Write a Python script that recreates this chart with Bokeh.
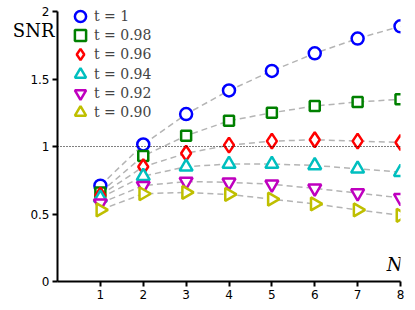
import numpy as np
from bokeh.plotting import figure
from bokeh.models import (Range1d, FixedTicker, Span, Label, Legend, LegendItem,
                          ColumnDataSource, LinearAxis)
from bokeh.embed import file_html
from bokeh.resources import INLINE

N = [1, 2, 3, 4, 5, 6, 7, 8]
snr_t100 = [0.71, 1.015, 1.24, 1.415, 1.56, 1.69, 1.80, 1.89]
snr_t098 = [0.66, 0.93, 1.08, 1.19, 1.25, 1.30, 1.33, 1.35]
snr_t096 = [0.64, 0.85, 0.95, 1.01, 1.04, 1.05, 1.04, 1.03]
snr_t094 = [0.62, 0.78, 0.85, 0.87, 0.87, 0.86, 0.835, 0.81]
snr_t092 = [0.58, 0.71, 0.74, 0.735, 0.72, 0.69, 0.655, 0.62]
snr_t090 = [0.53, 0.65, 0.66, 0.645, 0.61, 0.575, 0.53, 0.49]
series_labels = ["t = 1", "t = 0.98", "t = 0.96", "t = 0.94", "t = 0.92", "t = 0.90"]
x_ticks = [1, 2, 3, 4, 5, 6, 7, 8]
y_ticks = [0, 0.5, 1, 1.5, 2]
y_tick_labels = ["0", "0.5", "1", "1.5", "2"]
y_title = "SNR"
x_title = "N"

series = [snr_t100, snr_t098, snr_t096, snr_t094, snr_t092, snr_t090]
colors = ["#0000ff", "#008000", "#ff0000", "#00bfbf", "#bf00bf", "#bfbf00"]
markers = ["circle", "square", "diamond", "triangle", "inverted_triangle", "triangle"]
sizes = [12, 10, 15, 13, 13, 13]
angles = [0, 0, 0, 0, 0, -np.pi / 2]

p = figure(width=415, height=310, output_backend="svg", toolbar_location=None,
           x_range=Range1d(0, 8), y_range=Range1d(0, 2.052),
           min_border_left=57, min_border_right=15, min_border_top=4,
           min_border_bottom=29)
p.outline_line_color = None
p.xgrid.visible = False
p.ygrid.visible = False

for ax in (p.xaxis[0], p.yaxis[0]):
    ax.axis_line_width = 2
    ax.major_tick_line_width = 2
    ax.major_tick_out = 5
    ax.major_tick_in = 0
    ax.minor_tick_line_color = None
    ax.major_label_text_font = "DejaVu Sans"
    ax.major_label_text_font_size = "12px"
    ax.major_label_text_color = "black"
    ax.axis_line_color = "black"
    ax.major_tick_line_color = "black"

p.xaxis.ticker = FixedTicker(ticks=x_ticks)
p.xaxis.major_label_standoff = 3
p.yaxis.ticker = FixedTicker(ticks=y_ticks)
p.yaxis.major_label_overrides = {t: l for t, l in zip(y_ticks, y_tick_labels)}
p.yaxis.major_label_standoff = 3
p.yaxis.bounds = (y_ticks[0], y_ticks[-1])

# y title "SNR" drawn as the single tick label of an extra, line-less axis
title_axis = LinearAxis(ticker=FixedTicker(ticks=[1.86]),
                        major_label_overrides={1.86: y_title},
                        axis_line_color=None, major_tick_line_color=None,
                        minor_tick_line_color=None, major_tick_out=0,
                        major_tick_in=0, major_label_standoff=-27,
                        major_label_text_font="DejaVu Serif",
                        major_label_text_font_size="18px",
                        major_label_text_color="black")
p.add_layout(title_axis, "left")

p.add_layout(Span(location=1, dimension="width", line_color="black",
                  line_width=1, line_dash="1 2"))

for s in series:
    p.line(N, s, line_color="#b4b4b4", line_width=1.5, line_dash="6 4")

for i, (s, c, m, sz, a, lab) in enumerate(zip(series, colors, markers, sizes,
                                                angles, series_labels)):
    src = ColumnDataSource(dict(x=N, y=s))
    r = p.scatter("x", "y", source=src, marker=m, size=sz, angle=a,
                  line_color=c, line_width=2.5, fill_color="white")
    lg = Legend(items=[LegendItem(label=lab, renderers=[r])],
                location=(9, round(250 - 19.2 * i)), padding=0, margin=0,
                spacing=0, glyph_height=30, glyph_width=28, label_height=30,
                label_standoff=0, label_text_font="DejaVu Serif",
                label_text_font_size="14px", border_line_color=None,
                background_fill_alpha=0)
    p.add_layout(lg)

p.add_layout(Label(x=8, y=0.045, text=x_title, text_font="DejaVu Serif",
                   text_font_style="italic", text_font_size="18px",
                   text_align="right", text_baseline="bottom", x_offset=2,
                   text_color="black"))

open("out.html", "w").write(file_html(p, INLINE))
